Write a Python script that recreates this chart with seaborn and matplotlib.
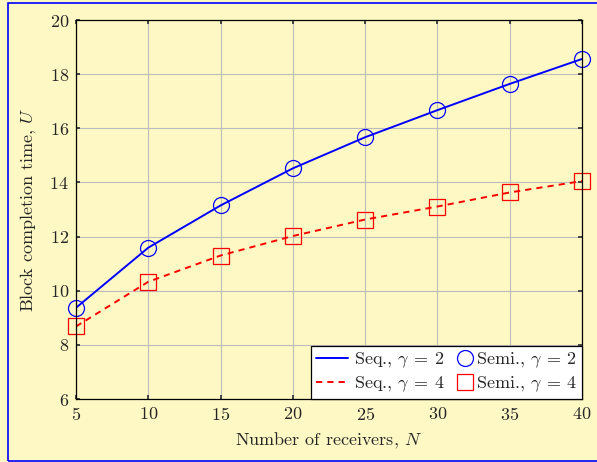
import matplotlib
matplotlib.use("Agg")
import matplotlib.pyplot as plt
import seaborn as sns
import pandas as pd
from matplotlib.patches import Rectangle
from matplotlib.legend_handler import HandlerLine2D

# Block completion time vs. number of receivers
receivers = [5, 10, 15, 20, 25, 30, 35, 40]
seq_gamma2 = [9.37, 11.59, 13.15, 14.52, 15.67, 16.67, 17.64, 18.56]
seq_gamma4 = [8.68, 10.33, 11.30, 12.02, 12.63, 13.11, 13.63, 14.05]
semi_gamma2 = [9.37, 11.59, 13.15, 14.52, 15.67, 16.67, 17.64, 18.56]
semi_gamma4 = [8.68, 10.33, 11.30, 12.02, 12.63, 13.11, 13.63, 14.05]
x_ticks = [5, 10, 15, 20, 25, 30, 35, 40]
y_ticks = [6, 8, 10, 12, 14, 16, 18, 20]

df = pd.DataFrame({
    "N": receivers,
    "seq2": seq_gamma2,
    "seq4": seq_gamma4,
    "semi2": semi_gamma2,
    "semi4": semi_gamma4,
})


class HandlerMarkerRight(HandlerLine2D):
    """Legend handler that puts a lone marker near the right end of the handle."""

    def get_xdata(self, legend, xdescent, ydescent, width, height, fontsize):
        xm = -xdescent + width - 0.3 * fontsize
        return [xm - 1, xm + 1], [xm]


sns.set_theme(style="ticks")
plt.rcParams["font.family"] = "serif"
plt.rcParams["font.serif"] = ["cmr10", "DejaVu Serif"]
plt.rcParams["mathtext.fontset"] = "cm"
plt.rcParams["axes.formatter.use_mathtext"] = True

FS = 13
bg = "#fef8c4"
fig = plt.figure(figsize=(5.97, 4.62), dpi=100, facecolor=bg)
fig.patches.append(Rectangle((8 / 597, 1 / 462), 1.0, 458 / 462,
                             transform=fig.transFigure, fill=False,
                             edgecolor="#0000ff", linewidth=1.2, zorder=0))
ax = fig.add_axes([76 / 597, 63 / 462, 506 / 597, 379 / 462])
ax.set_facecolor(bg)

sns.lineplot(data=df, x="N", y="seq2", ax=ax, color="#0000ff", lw=1.4,
             label=r"Seq., $\gamma\:=\:2$")
sns.lineplot(data=df, x="N", y="seq4", ax=ax, color="#ff0000", lw=1.4,
             label=r"Seq., $\gamma\:=\:4$")
ax.lines[-1].set_dashes((3.2, 2.6))
sns.lineplot(data=df, x="N", y="semi2", ax=ax, marker="o", linestyle="none",
             ms=11.5, mfc="none", mec="#0000ff", mew=0.9, clip_on=False,
             label=r"Semi., $\gamma\:=\:2$")
sns.lineplot(data=df, x="N", y="semi4", ax=ax, marker="s", linestyle="none",
             ms=11, mfc="none", mec="#ff0000", mew=0.9, clip_on=False,
             label=r"Semi., $\gamma\:=\:4$")

ax.set_xlim(5, 40)
ax.set_ylim(6, 20)
ax.set_xticks(x_ticks)
ax.set_yticks(y_ticks)
ax.grid(True, color="#bcbcbc", lw=0.8)
ax.set_axisbelow(True)
ax.tick_params(direction="in", length=3, top=True, right=True,
               labelsize=FS, color="#333333", pad=5)
for s in ax.spines.values():
    s.set_color("black")
    s.set_linewidth(0.9)
    s.set_zorder(2.6)

ax.set_xlabel(r"Number of receivers, $N$", fontsize=FS, labelpad=5)
ax.set_ylabel(r"Block completion time, $U$", fontsize=FS, labelpad=8)

handles, labels = ax.get_legend_handles_labels()
marker_handler = HandlerMarkerRight(numpoints=1)
leg = ax.legend(handles, labels, ncol=2, loc="lower right", fontsize=FS,
                frameon=True, fancybox=False, edgecolor="black",
                framealpha=1, borderpad=0.28, handlelength=1.77,
                handletextpad=0.3, columnspacing=-0.35, labelspacing=0.22,
                borderaxespad=0,
                handler_map={handles[2]: marker_handler,
                             handles[3]: marker_handler})
leg.get_frame().set_linewidth(0.9)
leg.set_zorder(5)

fig.savefig("out.png", dpi=100, facecolor=bg)
